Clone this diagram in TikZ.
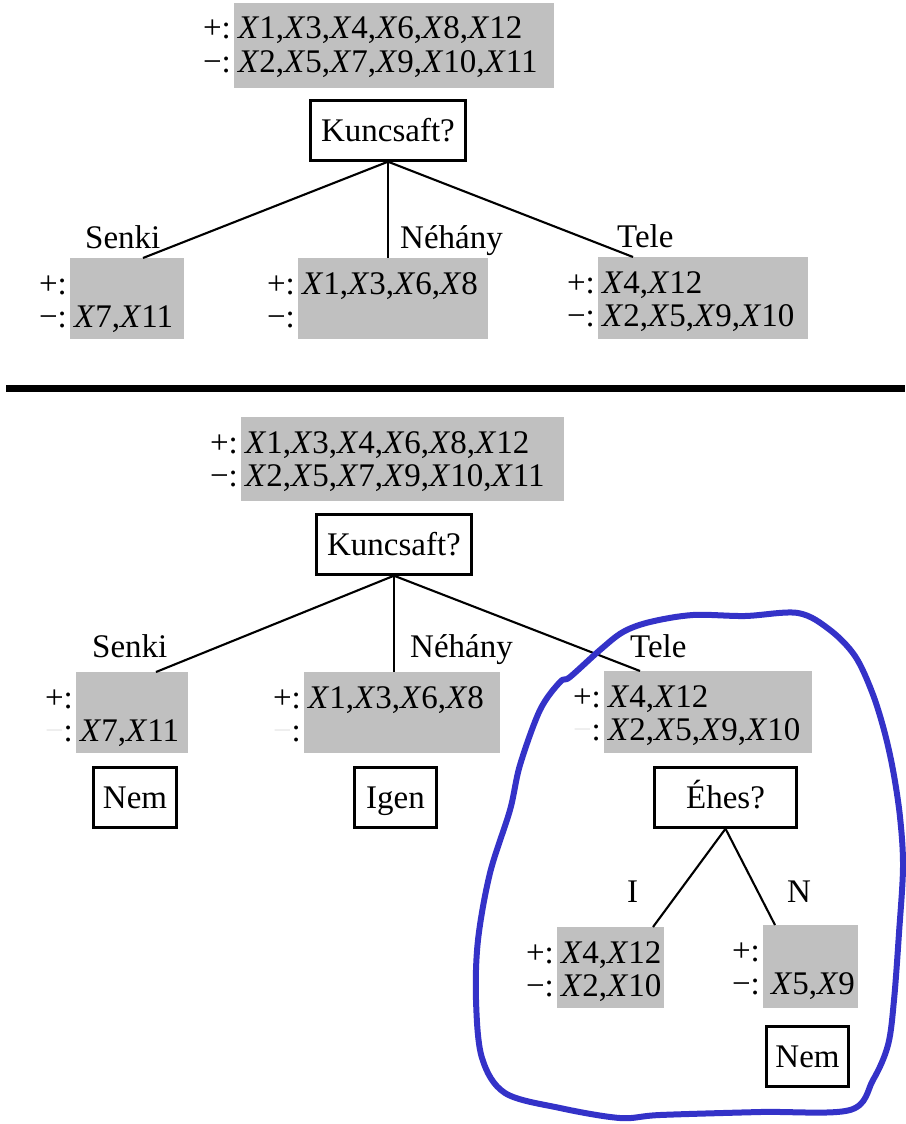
\documentclass[tikz,border=0pt]{standalone}
\usepackage{fontspec}
\setmainfont{Liberation Serif}
\definecolor{setgray}{RGB}{192,192,192}
\definecolor{markblue}{RGB}{52,50,200}
\newcommand{\ex}[1]{\textit{X}#1}
% a gray example set with its "+:" and "-:" rows
% #1 name, #2 x, #3 y, #4 width, #5 height, #6 positives, #7 negatives, #8 colour of the minus sign
\newcommand{\gset}[8]{%
  \node[setbox, minimum width=#4pt, minimum height=#5pt, anchor=north west] (#1) at (#2,#3) {};
  \node[txt, anchor=base west] (#1-pos) at ([shift={(4pt,-36pt)}]#1.north west) {#6};
  \node[txt, anchor=base west] (#1-neg) at ([shift={(4pt,-69pt)}]#1.north west) {#7};
  \node[txt, anchor=base east] (#1-plus) at ([shift={(-3pt,-36pt)}]#1.north west) {+:};
  \node[txt, anchor=base east] (#1-minus) at ([shift={(-3pt,-69pt)}]#1.north west) {{\color{#8}−}:};
}
\tikzset{
  txt/.style={inner sep=0pt, font=\fontsize{33}{33}\selectfont},
  setbox/.style={fill=setgray, draw=none, inner sep=0pt},
  testbox/.style={draw, line width=2.4pt, fill=white, inner sep=0pt,
    minimum height=60pt, text height=22pt, text depth=0pt,
    font=\fontsize{33}{33}\selectfont},
  branch/.style={line width=2.1pt},
  rule/.style={line width=7pt},
  hand/.style={draw=markblue, line width=6pt, line join=round}
}
\begin{document}
\begin{tikzpicture}[x=1pt, y=-1pt]
\useasboundingbox (0,0) rectangle (905,1124);

% ---------- upper tree ----------
\gset{t0}{234}{3}{320}{85}{\ex1,\ex3,\ex4,\ex6,\ex8,\ex{12}}{\ex2,\ex5,\ex7,\ex9,\ex{10},\ex{11}}{black}
\node[testbox, minimum width=155pt] (k1) at (388,130.5) {Kuncsaft?};

\gset{t1}{70}{258}{114}{81}{}{\ex7,\ex{11}}{black}
\gset{t2}{298}{258}{190}{81}{\ex1,\ex3,\ex6,\ex8}{}{black}
\gset{t3}{598}{257}{210}{82}{\ex4,\ex{12}}{\ex2,\ex5,\ex9,\ex{10}}{black}

\draw[branch] (k1.south) -- ([xshift=73pt]t1.north west);
\draw[branch] (k1.south) -- ([xshift=90pt]t2.north west);
\draw[branch] (k1.south) -- ([xshift=35pt]t3.north west);

\node[txt, anchor=base west] (t1-lab) at (85,248) {Senki};
\node[txt, anchor=base west] (t2-lab) at (400,248) {Néhány};
\node[txt, anchor=base west] (t3-lab) at (617,247) {Tele};

% ---------- separator ----------
\coordinate (sepL) at (6,388);
\coordinate (sepR) at (905,388);
\draw[rule] (sepL) -- (sepR);

% ---------- lower tree ----------
\gset{b0}{241}{417}{323}{84}{\ex1,\ex3,\ex4,\ex6,\ex8,\ex{12}}{\ex2,\ex5,\ex7,\ex9,\ex{10},\ex{11}}{black}
\node[testbox, minimum width=155pt] (k2) at (394,544.5) {Kuncsaft?};

\gset{b1}{76}{672}{112}{81}{}{\ex7,\ex{11}}{black!8}
\gset{b2}{304}{672}{196}{81}{\ex1,\ex3,\ex6,\ex8}{}{black!8}
\gset{b3}{604}{671}{208}{82}{\ex4,\ex{12}}{\ex2,\ex5,\ex9,\ex{10}}{black!8}

\draw[branch] (k2.south) -- ([xshift=80pt]b1.north west);
\draw[branch] (k2.south) -- ([xshift=90pt]b2.north west);
\draw[branch] (k2.south) -- ([xshift=36pt]b3.north west);

\node[txt, anchor=base west] (b1-lab) at (92,657) {Senki};
\node[txt, anchor=base west] (b2-lab) at (410,657) {Néhány};
\node[txt, anchor=base west] (b3-lab) at (630,657) {Tele};

\node[testbox, minimum width=83pt] (nem1) at (135,797.5) {Nem};
\node[testbox, minimum width=82pt] (igen) at (395.5,797.5) {Igen};
\node[testbox, minimum width=142pt] (ehes) at (725.5,797.5) {Éhes?};

\gset{b4}{557}{927}{107}{81}{\ex4,\ex{12}}{\ex2,\ex{10}}{black}
\gset{b5}{763}{925}{95}{83}{}{\hspace{4pt}\ex5,\ex9}{black}

\draw[branch] (ehes.south) -- ([xshift=96pt]b4.north west);
\draw[branch] (ehes.south) -- ([xshift=12pt]b5.north west);

\node[txt, anchor=base west] (b4-lab) at (627,902) {I};
\node[txt, anchor=base west] (b5-lab) at (787,902) {N};

\node[testbox, minimum width=82pt] (nem2) at (807.5,1056.5) {Nem};

% ---------- hand-drawn loop round the new subtree ----------
\draw[hand] plot[smooth cycle, tension=0.55] coordinates {
  (570,677) (600,650) (623,632) (650,622) (693,615) (745,616) (798,613)
  (830,630) (855,656) (872,692) (884,730) (893,770) (900,817) (903,867)
  (899,933) (894,1000) (888,1045) (873,1080) (850,1110) (760,1112)
  (660,1115) (620,1118) (560,1108) (505,1093) (482,1058) (476,1000)
  (478,940) (490,873) (510,810) (520,765) (540,710) (560,682)};
\end{tikzpicture}
\end{document}
